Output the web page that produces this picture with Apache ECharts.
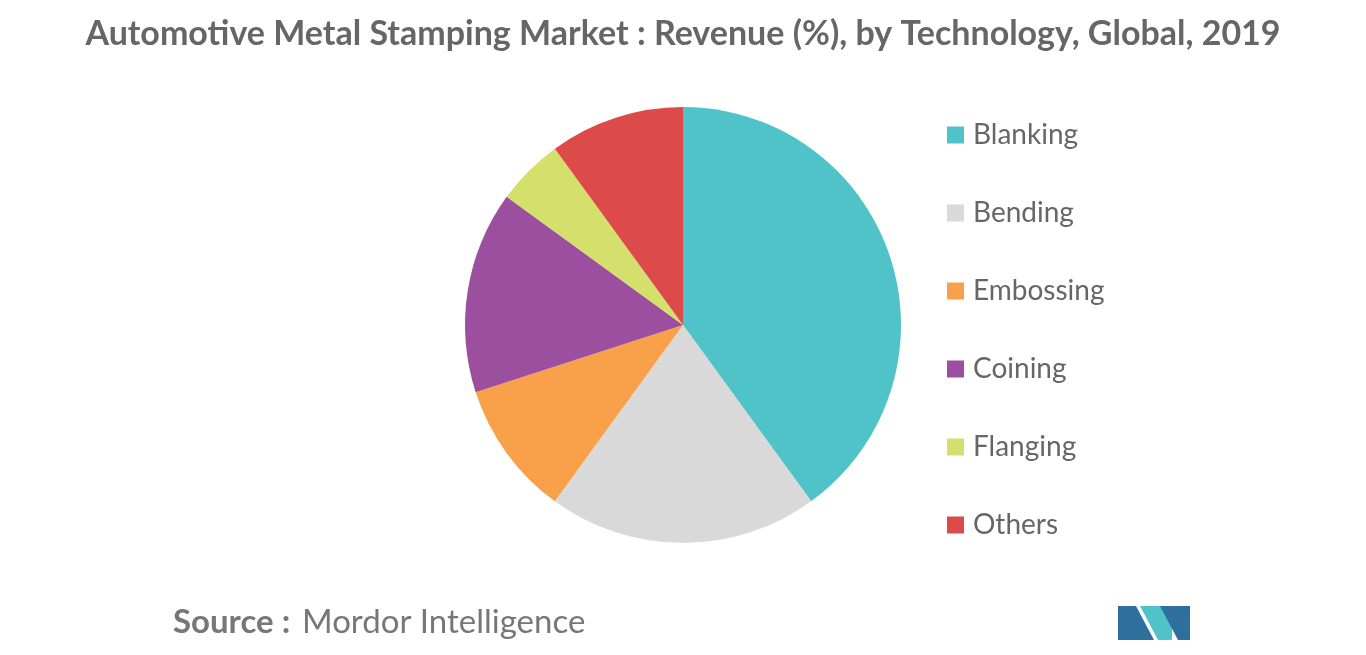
<!DOCTYPE html>
<html>
<head>
<meta charset="utf-8">
<script src="https://cdn.jsdelivr.net/npm/echarts@6/dist/echarts.min.js"></script>
<style>
html,body{margin:0;padding:0;background:#fff;}
#main{width:1366px;height:655px;}
</style>
</head>
<body>
<div id="main"></div>
<script>
// 分类
var categories = ['Blanking', 'Bending', 'Embossing', 'Coining', 'Flanging', 'Others'];
// 占比 (%)
var shares = [40, 20, 10, 15, 5, 10];
// 颜色
var colors = ['#4FC3C8', '#D9D9D9', '#F9A04A', '#9B4F9E', '#D4E06B', '#DD4A4A'];

var myChart = echarts.init(document.getElementById('main'));
var pieData = [];
for (var i = 0; i < categories.length; i++) {
	pieData.push({ name: categories[i], value: shares[i] });
}
var option = {
	color: colors,
	animation: false,
	title: {
		text: 'Automotive Metal Stamping Market : Revenue (%), by Technology, Global, 2019',
		left: 'center',
		top: 12,
		textStyle: { color: '#666', fontSize: 34, fontWeight: 'bold', fontFamily: 'Lato' }
	},
	legend: {
		orient: 'vertical',
		left: 942,
		top: 116,
		itemGap: 50,
		itemWidth: 17,
		itemHeight: 17,
		icon: 'rect',
		textStyle: { color: '#666', fontSize: 28, fontFamily: 'Lato', padding: [0, 0, 0, 4] },
		data: categories
	},
	series: [{
		type: 'pie',
		center: [683, 325],
		radius: 218,
		startAngle: 90,
		clockwise: true,
		label: { show: false },
		labelLine: { show: false },
		data: pieData
	}],
	graphic: [
		{
			type: 'text', left: 173, top: 606,
			style: { text: 'Source :', fill: '#777', font: 'bold 33px Lato' }
		},
		{
			type: 'text', left: 302, top: 606,
			style: { text: 'Mordor Intelligence', fill: '#777', font: '33px Lato' }
		},
		// logo
		{ type: 'polygon', shape: { points: [[1118,640],[1118,606],[1136,606],[1154,640]] }, style: { fill: '#2E6F9E' } },
		{ type: 'polygon', shape: { points: [[1140,606],[1158,640],[1172,640],[1172,606],[1158,606]] }, style: { fill: '#4FC3C8' } },
		{ type: 'polygon', shape: { points: [[1160,606],[1190,606],[1190,640],[1178,640]] }, style: { fill: '#2E6F9E' } }
	]
};
myChart.setOption(option);
</script>
</body>
</html>
